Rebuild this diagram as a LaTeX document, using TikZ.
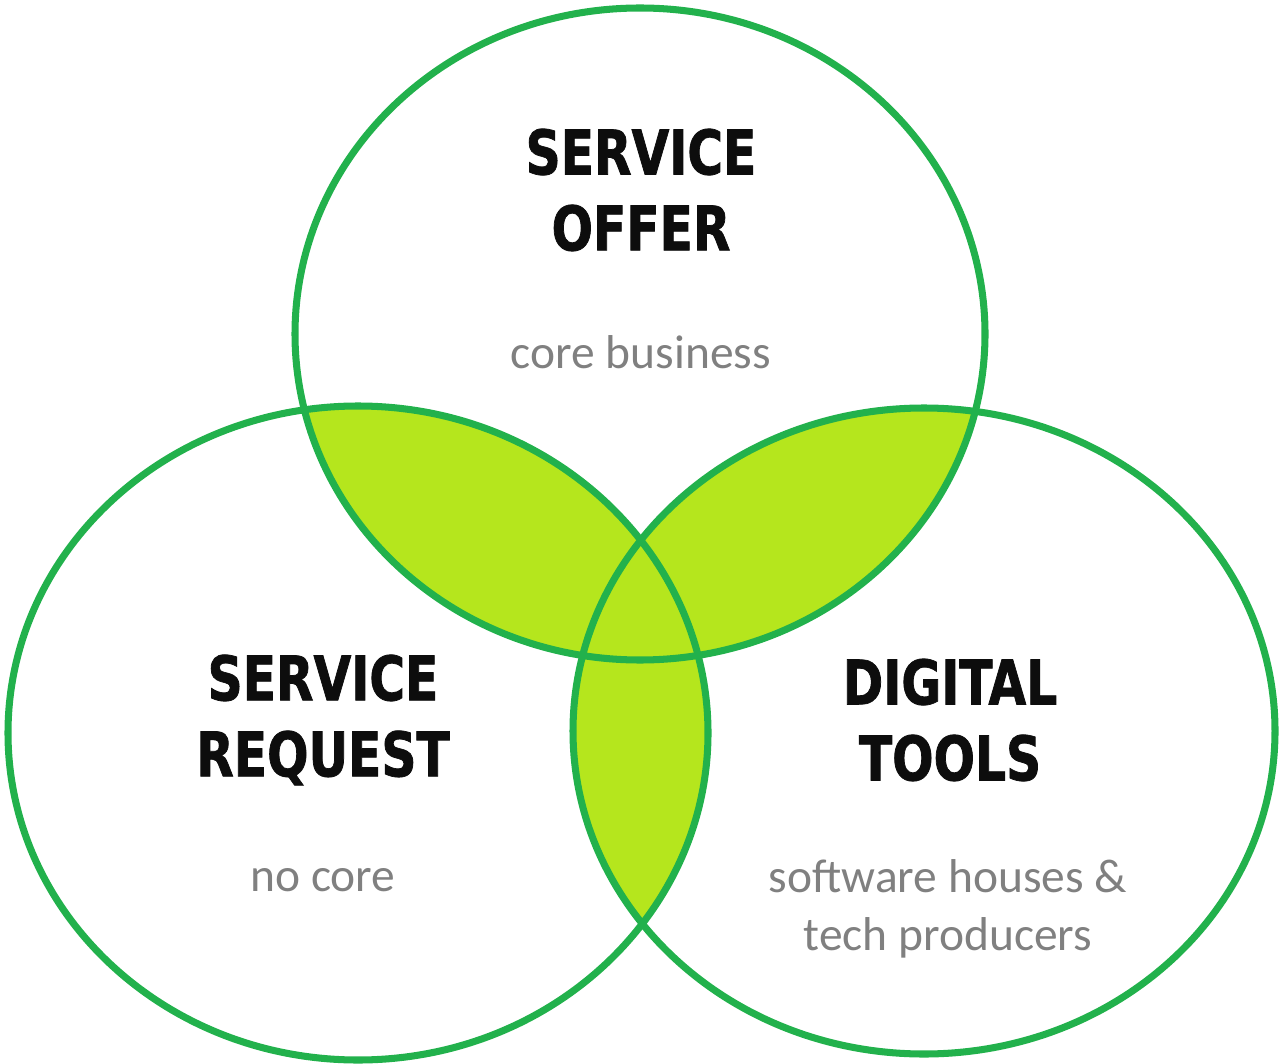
\documentclass[tikz,border=0pt]{standalone}
\usepackage{fontspec}
\setmainfont{Carlito}
\newfontfamily\headfont[FakeStretch=0.88,FakeBold=1.2]{DejaVu Sans Condensed}
\usepackage{tikz}
\definecolor{ringgreen}{HTML}{22B14C}
\definecolor{limegreen}{HTML}{B5E61D}
\definecolor{notegray}{HTML}{808080}

\begin{document}
\begin{tikzpicture}[x=0.01cm,y=-0.01cm,
    ring/.style={draw=ringgreen, line width=2pt},
    heading/.style={font=\headfont\bfseries\fontsize{17.5}{21.6}\selectfont, align=center, text=black!95},
    note/.style={font=\fontsize{13.5}{16.4}\selectfont, align=center, text=notegray}]
    \useasboundingbox (0,0) rectangle (1279,1064);

    \def\offerpath{(640,334) ellipse [x radius=345, y radius=326]}
    \def\requestpath{(358,733) ellipse [x radius=350, y radius=327]}
    \def\toolspath{(924,731) ellipse [x radius=351, y radius=323]}

    % overlaps
    \begin{scope}
      \clip \offerpath;
      \fill[limegreen] \requestpath;
      \fill[limegreen] \toolspath;
    \end{scope}
    \begin{scope}
      \clip \requestpath;
      \fill[limegreen] \toolspath;
    \end{scope}

    \draw[ring] \offerpath;
    \draw[ring] \requestpath;
    \draw[ring] \toolspath;

    \node[heading] (offer) at (641,190) {SERVICE\\OFFER};
    \node[note] (offernote) at (641,352) {core business};

    \node[heading] (request) at (323,720) {SERVICE\\REQUEST};
    \node[note] (requestnote) at (323,880) {no core};

    \node[heading] (tools) at (950,720) {DIGITAL\\TOOLS};
    \node[note] (toolsnote) at (948,909) {software houses \&\\tech producers};
  \end{tikzpicture}
\end{document}
